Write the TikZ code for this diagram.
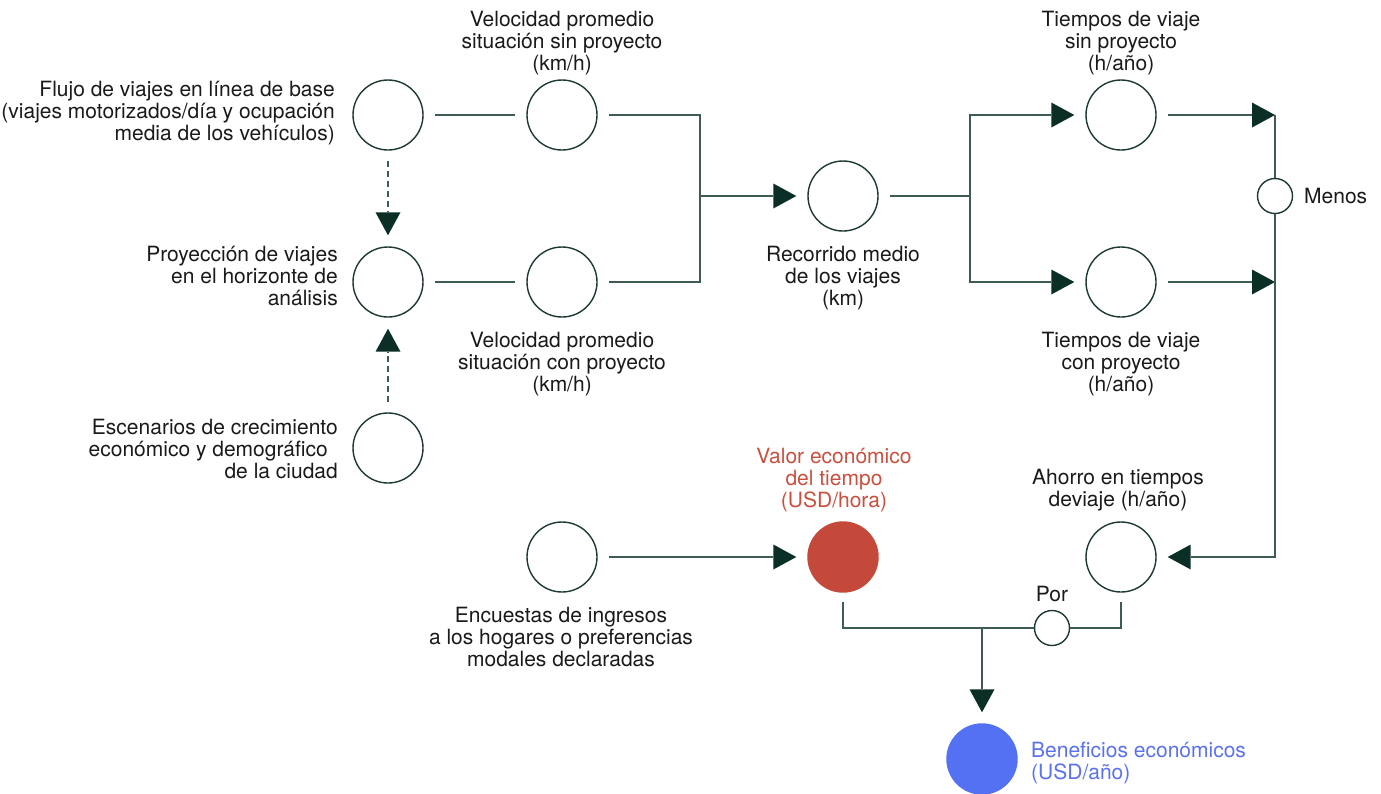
\documentclass[tikz,border=0pt]{standalone}
\usepackage{fontspec}
\setmainfont{TeX Gyre Heros}
\usetikzlibrary{arrows.meta}
\definecolor{linec}{HTML}{3E5C54}
\definecolor{circc}{HTML}{1C3A32}
\definecolor{arrowc}{HTML}{0B2E26}
\definecolor{redc}{HTML}{C5493A}
\definecolor{bluec}{HTML}{5470F3}
\definecolor{redt}{HTML}{C9503F}
\definecolor{bluet}{HTML}{5B72F0}
\definecolor{txtc}{HTML}{1A1A1A}
\begin{document}
\begin{tikzpicture}[x=1pt,y=-1pt,
  circ/.style={circle,draw=circc,line width=1.4pt,minimum size=70pt,inner sep=0pt},
  smallc/.style={circle,draw=circc,line width=1.4pt,minimum size=35pt,inner sep=0pt},
  conn/.style={draw=linec,line width=1.5pt},
  arrn/.style={conn,-{Triangle[length=23pt,width=25pt,color=arrowc,line width=0pt]}},
  arr/.style={arrn,shorten >=11pt},
  dashconn/.style={dash pattern=on 6pt off 4pt},
  lbl/.style={font=\fontsize{21}{22}\selectfont,text=txtc,inner sep=0pt,align=center,anchor=north,execute at begin node=\strut},
]
\useasboundingbox[fill=white] (0,0) rectangle (1381,793);

% circles
\node[circ] (A) at (388,115) {};
\node[circ] (B) at (562,115) {};
\node[circ] (C) at (388,282) {};
\node[circ] (D) at (562,282) {};
\node[circ] (E) at (388,448) {};
\node[circ] (F) at (843,196) {};
\node[circ] (G) at (1121,115) {};
\node[circ] (H) at (1121,282) {};
\node[smallc] (M) at (1275,196) {};
\node[circ] (I) at (1121,557) {};
\node[circ,fill=redc,draw=redc] (J) at (843,557) {};
\node[circ] (K) at (562,557) {};
\node[smallc] (P) at (1052,628) {};
\node[circ,fill=bluec,draw=bluec] (L) at (982,759) {};

% junctions
\coordinate (j1) at (700,196);
\coordinate (j2) at (970,196);
\coordinate (m1) at (1275,115);
\coordinate (m2) at (1275,282);
\coordinate (j3) at (982,628);

% connectors
\draw[conn,shorten <=11pt,shorten >=11pt] (A) -- (B);
\draw[conn,shorten <=11pt,shorten >=11pt] (C) -- (D);
\draw[conn] ([xshift=11pt]B.east) -| (j1);
\draw[conn] ([xshift=11pt]D.east) -| (j1);
\draw[arr] (j1) -- (F);
\draw[conn] ([xshift=11pt]F.east) -- (j2);
\draw[arr] (j2) |- (G);
\draw[arr] (j2) |- (H);
\draw[arrn] ([xshift=11pt]G.east) -- (m1);
\draw[arrn] ([xshift=11pt]H.east) -- (m2);
\draw[conn] (m1) -- (M);
\draw[arr] (M) |- (I);
\draw[conn] ([yshift=-9pt]I.south) |- (P);
\draw[conn] ([yshift=-9pt]J.south) |- (P);
\draw[arr] (j3) -- (L);
\draw[arr] ([xshift=11pt]K.east) -- (J);
\draw[arr,dashconn] ([yshift=-10pt]A.south) -- (C);
\draw[arr,dashconn] ([yshift=10pt]E.north) -- (C);

% labels
\node[lbl] (tVs) at (562,10.6) {Velocidad promedio\\situación sin proyecto\\(km/h)};
\node[lbl,anchor=north east,align=right] (tFl) at (335,80.6) {Flujo de viajes en línea de base\\(viajes motorizados/día y ocupación\\media de los vehículos)};
\node[lbl,anchor=north east,align=right] (tPr) at (338,245.6) {Proyección de viajes\\en el horizonte de\\análisis};
\node[lbl] (tVc) at (562,331.6) {Velocidad promedio\\situación con proyecto\\(km/h)};
\node[lbl,anchor=north east,align=right] (tEs) at (338,418.6) {Escenarios de crecimiento\\económico y demográfico\rule{10pt}{0pt}\\de la ciudad};
\node[lbl] (tRe) at (843,246) {Recorrido medio\\de los viajes\\(km)};
\node[lbl] (tTs) at (1121,10.6) {Tiempos de viaje\\sin proyecto\\(h/año)};
\node[lbl] (tTc) at (1121,331.6) {Tiempos de viaje\\con proyecto\\(h/año)};
\node[lbl,anchor=base west] (tMe) at (1304,203.3) {Menos};
\node[lbl,text=redt] (tVa) at (834,447.6) {Valor económico\\del tiempo\\(USD/hora)};
\node[lbl] (tAh) at (1118,468.6) {Ahorro en tiempos\\deviaje (h/año)};
\node[lbl] (tEn) at (561,607) {Encuestas de ingresos\\a los hogares o preferencias\\modales declaradas};
\node[lbl,anchor=base] (tPo) at (1052,601) {Por};
\node[lbl,anchor=north west,align=left,text=bluet] (tBe) at (1031,741.6) {Beneficios económicos\\(USD/año)};
\end{tikzpicture}
\end{document}
